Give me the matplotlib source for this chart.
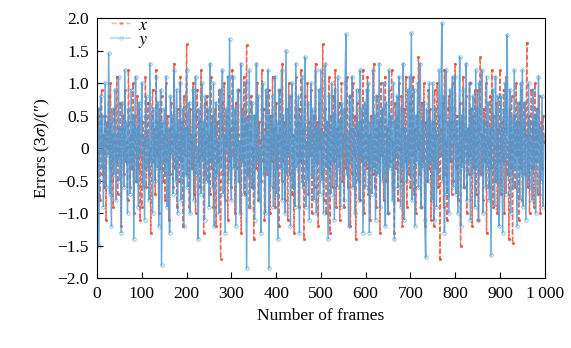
import numpy as np
import matplotlib
matplotlib.use('Agg')
import matplotlib.pyplot as plt
from matplotlib import rcParams

rcParams['font.family'] = ['Liberation Serif', 'DejaVu Serif']
rcParams['mathtext.fontset'] = 'stix'
rcParams['font.size'] = 12

# errors, one value every 2 frames (rows = 50 frames)
x_err = [
    0.3, -0.2, 0.6, -0.8, 0.1, 0.9, -0.4, 0.2, -0.6, 0.5, -1.1, 0.4, 0.0, 0.8, -0.3, 1.0, -0.5, 0.2, -0.9, 0.6, 0.1, -0.2, 1.1, -0.7, 0.3,
    -0.1, 0.7, -1.2, 0.3, 0.5, -0.4, 0.9, -0.2, 0.1, -0.8, 1.2, 0.4, -0.6, 0.2, -0.3, 1.0, -1.0, 0.5, 0.0, -0.5, 0.8, -0.3, 0.6, -1.1, 0.2,
    -0.9, 0.4, 0.1, -0.3, 1.1, -0.6, 0.2, 0.7, -0.4, 0.0, -1.3, 0.5, 0.9, -0.2, 0.3, -0.7, 1.2, -0.1, 0.4, -1.0, 0.6, -0.3, 0.8, 0.1, -0.5,
    0.2, -0.8, 1.0, -0.2, 0.5, -1.1, 0.3, -0.4, 0.7, 0.1, -0.6, 1.3, -0.3, 0.2, -0.9, 0.6, 0.0, -0.5, 1.1, -0.2, 0.4, -1.2, 0.8, -0.1, 0.5,
    1.6, -0.4, 0.3, -0.9, 0.6, 0.1, -0.3, 1.0, -0.7, 0.2, -1.0, 0.5, 0.9, -0.2, 0.4, -0.6, 1.2, -0.1, 0.3, -1.3, 0.7, -0.4, 0.1, 0.8, -0.5,
    0.2, -0.7, 1.1, -0.3, 0.5, -0.9, 0.0, 0.6, -1.2, 0.4, -0.2, 0.9, -0.5, -1.7, 0.3, 0.7, -0.4, 1.0, -0.8, 0.1, 0.5, -1.1, 0.8, -0.2, 0.3,
    -0.6, 1.2, -0.1, 0.4, -1.0, 0.7, -0.3, 0.2, 0.9, -0.5, 0.1, -1.3, 0.6, -0.2, 1.1, -0.7, 0.3, 1.58, -0.4, 0.5, -0.9, 0.2, 0.8, -0.6, 0.0,
    -1.4, 0.5, 0.2, -0.3, 1.0, -0.8, 0.4, 0.1, -0.5, 1.2, -0.2, 0.6, -1.1, 0.3, 0.8, -0.4, 0.0, 0.9, -1.0, 0.5, -0.2, 1.1, -0.6, 0.3, -0.9,
    0.7, -0.3, 0.2, -1.2, 0.9, 0.1, -0.5, 1.3, -0.2, 0.4, -0.8, 0.6, 0.0, -1.1, 1.0, -0.4, 0.3, 0.8, -0.7, 0.2, -1.3, 0.5, 1.1, -0.1, 0.4,
    -0.9, 0.6, -0.2, 1.2, -0.5, 0.3, -1.4, 0.8, 0.1, -0.3, 1.0, -0.7, 0.4, -0.1, 0.9, -1.0, 0.2, 0.5, -0.6, 1.3, -0.2, 0.4, -1.2, 0.7, 0.0,
    0.3, -0.4, 1.6, -0.8, 0.2, 0.6, -1.0, 0.4, -0.3, 1.1, -1.3, 0.5, 0.1, -0.6, 0.8, -0.2, 1.2, -0.9, 0.3, -0.1, 0.7, -1.1, 0.4, 1.0, -0.5,
    0.2, -0.9, 0.6, -0.3, 1.1, -0.6, 0.0, 0.8, -1.2, 0.3, -0.4, 1.0, -0.1, 0.5, -1.4, 0.7, 0.2, -0.5, 0.9, -0.8, 0.4, -0.2, 1.2, -1.0, 0.1,
    0.6, -0.3, 1.1, -0.7, 0.2, -1.1, 0.5, 0.0, -0.4, 1.3, -0.6, 0.3, -0.9, 0.8, -0.2, 0.4, -1.3, 1.0, -0.1, 0.6, -0.8, 0.2, 1.1, -0.5, 0.3,
    -1.0, 0.9, -0.2, 0.4, 1.2, -0.6, 0.1, -1.3, 0.7, -0.3, 0.5, -0.8, 1.0, 0.0, -0.5, 0.8, -1.2, 0.3, 0.6, -0.2, 1.1, -0.9, 0.2, -0.4, 0.7,
    -0.6, 0.8, -0.1, 1.1, -0.7, 0.3, -1.0, 0.5, 0.0, 1.4, -0.4, 0.2, -0.9, 0.7, -0.2, 1.0, -1.2, 0.4, 0.1, -0.5, 0.9, -0.3, 0.6, -1.1, 0.2,
    0.4, -1.2, 0.9, -0.3, 0.2, 1.0, -0.6, 0.5, -1.7, 0.3, -0.1, 0.7, -0.9, 1.2, -0.4, 0.1, -1.1, 0.6, 0.8, -0.2, 0.4, -0.7, 1.0, -0.5, 0.2,
    1.3, -0.3, 0.5, -0.8, 0.0, 0.7, -1.5, 0.4, -0.2, 1.1, -0.6, 0.2, 0.8, -1.0, 0.3, -0.4, 1.0, -0.1, 0.6, -1.2, 0.5, -0.3, 0.9, -0.7, 0.1,
    0.9, -1.1, 0.3, 1.4, -0.4, 0.2, -0.8, 0.6, -0.2, 1.0, -1.3, 0.4, 0.1, -0.6, 0.8, -0.3, 1.2, -0.9, 0.5, 0.0, -0.5, 0.7, -1.0, 0.3, -0.2,
    1.2, -0.7, 0.4, -0.2, 0.9, -1.0, 0.3, 1.1, -0.4, 0.1, -1.4, 0.6, -0.3, 0.8, -1.46, 0.2, 0.5, -0.6, 1.0, -0.1, 0.4, -1.1, 0.7, -0.3, 0.9,
    -0.8, 0.3, 0.7, -0.4, 0.2, 1.62, -0.6, 0.5, -1.0, 0.1, 0.9, -0.3, 0.4, -0.9, 1.0, -0.2, 0.6, -0.7, 0.2, 0.8, -1.0, 0.4, -0.3, 0.5, 0.1,
]

y_err = [
    -0.4, 0.6, -1.5, 0.2, 0.8, -0.3, 0.5, -0.9, 0.1, 1.0, -0.6, 0.3, -0.1, 1.46, -0.7, 0.4, -1.2, 0.6, 0.0, -0.4, 0.9, -0.8, 0.2, -0.2, 1.1,
    -0.5, 0.3, -1.3, 0.7, 0.1, -0.6, 1.2, -0.2, 0.4, -1.0, 0.6, 0.0, -0.7, 0.9, -0.3, 0.5, -1.4, 0.2, 1.1, -0.5, 0.3, -0.9, 0.7, -0.1, 0.4,
    1.0, -0.6, 0.2, -1.1, 0.5, 0.8, -0.3, 0.1, -0.8, 1.3, -0.2, 0.4, -1.0, 0.6, 0.0, -0.5, 1.1, -0.3, 0.7, -1.2, 0.2, 0.9, -1.8, 0.4, -0.2,
    0.6, -0.4, 1.1, -0.9, 0.3, 0.0, -1.3, 0.8, -0.1, 0.5, -0.7, 1.2, 0.2, -0.5, 0.9, -1.0, 0.4, -0.2, 1.0, -0.8, 0.1, 0.6, -1.2, 0.3, -0.4,
    1.2, -0.6, 0.3, 0.7, -1.0, 0.2, -0.3, 0.9, -0.8, 0.5, 1.1, -0.4, 0.0, -1.4, 0.6, 0.3, -0.7, 1.0, -0.2, 0.4, -1.1, 0.8, -0.5, 0.1, 0.6,
    -0.9, 1.3, -0.2, 0.4, -0.6, 1.0, -1.2, 0.3, 0.7, -0.4, 0.1, -1.0, 0.9, -0.3, 0.5, 1.2, -0.7, 0.2, -1.3, 0.6, 0.0, 1.1, -0.5, 1.68, -0.3,
    -0.8, 0.4, 1.1, -0.3, 0.6, -1.2, 0.2, 0.9, -0.5, 0.1, -1.0, 1.3, -0.2, 0.5, -0.7, 0.3, 1.0, -1.85, 0.4, -0.4, 1.2, -0.9, 0.2, 0.7, -0.6,
    0.5, -1.1, 0.3, 1.3, -0.2, 0.8, -0.8, 0.0, -1.3, 0.6, 1.0, -0.4, 0.2, -1.0, 0.9, -0.3, 1.2, -1.85, 0.5, -0.6, 0.1, 0.8, -0.9, 0.3, 1.1,
    -0.7, 0.4, -1.4, 0.9, 0.2, -0.3, 1.2, -0.8, 0.5, 0.0, -1.0, 1.5, -0.4, 0.6, -0.1, 0.8, -1.2, 0.3, 1.0, -0.6, 0.2, -0.9, 1.3, -0.3, 0.5,
    0.8, -1.3, 0.4, -0.2, 1.1, -0.6, 0.3, 1.4, -0.9, 0.1, -0.5, 0.7, -1.1, 0.2, 1.0, -0.4, 0.6, -0.8, 0.0, 1.2, -1.0, 0.3, -0.2, 0.9, -0.7,
    1.2, -0.5, 0.2, -1.0, 0.6, 1.3, -0.3, 0.4, -1.4, 0.8, 0.0, -0.7, 1.0, -0.2, 0.5, -1.1, 0.9, 0.1, -0.6, 1.1, -0.3, 0.4, -0.9, 0.7, -0.1,
    0.6, -0.8, 1.0, 1.75, -0.4, 0.2, -1.2, 0.8, -0.2, 0.5, 1.1, -0.6, 0.3, -1.0, 0.0, 0.9, -0.5, 0.4, -0.8, 1.2, -0.1, 0.6, -1.3, 0.2, 0.7,
    -0.6, 0.9, -0.2, 1.0, -1.3, 0.4, 0.1, -0.7, 1.2, -0.3, 0.5, -1.1, 0.8, 0.0, -0.4, 1.3, -0.9, 0.2, 0.6, -0.5, 1.0, -0.2, -1.2, 0.7, 0.3,
    -1.0, 1.2, -0.3, 0.5, 0.1, -0.8, 1.0, -1.4, 0.4, -0.1, 0.8, -0.6, 1.1, 0.2, -0.9, 0.6, -0.3, 1.3, -1.1, 0.3, 0.0, -0.5, 0.9, -0.2, 1.1,
    -0.4, 1.77, -0.8, 0.3, 0.9, -1.2, 0.5, -0.2, 1.0, -0.6, 0.1, 1.3, -0.9, 0.4, -0.3, 0.7, -1.1, -1.68, 0.6, 0.2, -0.5, 1.0, -0.2, 0.4, -0.8,
    1.0, -1.1, 0.3, 0.6, -0.9, 0.2, -0.4, 1.2, -0.1, 0.5, 1.92, -0.5, 0.8, -1.3, 0.1, 1.2, -0.7, 0.4, -1.0, 0.9, -0.2, 0.6, 1.1, -0.6, 0.2,
    1.1, -0.7, 0.4, -1.0, 0.0, 1.4, -1.2, 0.5, -0.3, 0.9, -0.6, 0.2, 1.3, -0.8, 0.3, -0.2, 1.0, -1.1, 0.6, -0.4, 0.8, 0.1, -0.9, 1.2, -0.3,
    0.6, -1.1, 1.0, -0.4, 0.2, 1.2, -1.0, 0.4, 0.0, -0.6, 1.1, -0.3, 0.7, -0.8, 0.3, -1.65, 0.5, 0.9, -0.2, -0.9, 1.1, 0.2, -0.5, 0.8, -1.2,
    -0.5, 0.8, 0.1, -1.3, 0.6, -0.2, 1.0, -0.7, 1.74, 0.3, -0.4, 0.9, -1.0, 0.5, 0.0, -0.6, 1.2, -0.3, 0.4, -1.2, 0.7, 0.1, -0.8, 1.0, -0.4,
    1.2, -0.9, 0.3, 0.7, -1.1, 0.2, -0.4, 1.0, -0.6, 0.4, 0.0, -0.8, 0.9, -0.3, 0.5, -1.0, 0.6, -0.2, 1.1, -0.7, 0.3, -0.5, 0.8, -0.9, 0.2,
]

frame_step = 2
x_frames = np.arange(len(x_err)) * frame_step
y_frames = np.arange(len(y_err)) * frame_step

xticks = [0, 100, 200, 300, 400, 500, 600, 700, 800, 900, 1000]
xtick_labels = ['0', '100', '200', '300', '400', '500', '600', '700', '800', '900', '1\u2009000']
yticks = [-2.0, -1.5, -1.0, -0.5, 0, 0.5, 1.0, 1.5, 2.0]
ytick_labels = ['\u22122.0', '\u22121.5', '\u22121.0', '\u22120.5', '0', '0.5', '1.0', '1.5', '2.0']

fig = plt.figure(figsize=(5.71, 3.48), dpi=100)
ax = fig.add_axes([0.170, 0.201, 0.784, 0.747])

ax.plot(x_frames, x_err, color='#e8503f', linestyle='--', linewidth=1.0,
        marker='.', markersize=2.5, alpha=0.85, label='$x$')
ax.plot(y_frames, y_err, color='#4c9ad3', linestyle='-', linewidth=1.1,
        marker='o', markersize=2.5, markerfacecolor='none', markeredgewidth=0.5,
        alpha=0.85, label='$y$')

ax.set_xlim(0, 1000)
ax.set_ylim(-2.0, 2.0)
ax.set_xticks(xticks)
ax.set_xticklabels(xtick_labels)
ax.set_yticks(yticks)
ax.set_yticklabels(ytick_labels)
ax.tick_params(direction='in', length=4, width=0.8, labelsize=12.5, pad=6)
ax.set_xlabel('Number of frames', fontsize=12.5)
ax.set_ylabel('Errors (3$\\sigma$)/(\u2033)', fontsize=12.5)

leg = ax.legend(loc='upper left', frameon=False, handlelength=1.1, fontsize=13,
                borderaxespad=0.1, labelspacing=-0.15, handletextpad=0.4,
                bbox_to_anchor=(0.01, 1.04))
for h in leg.legend_handles:
    h.set_alpha(0.45)

fig.savefig('out.png', dpi=100)
